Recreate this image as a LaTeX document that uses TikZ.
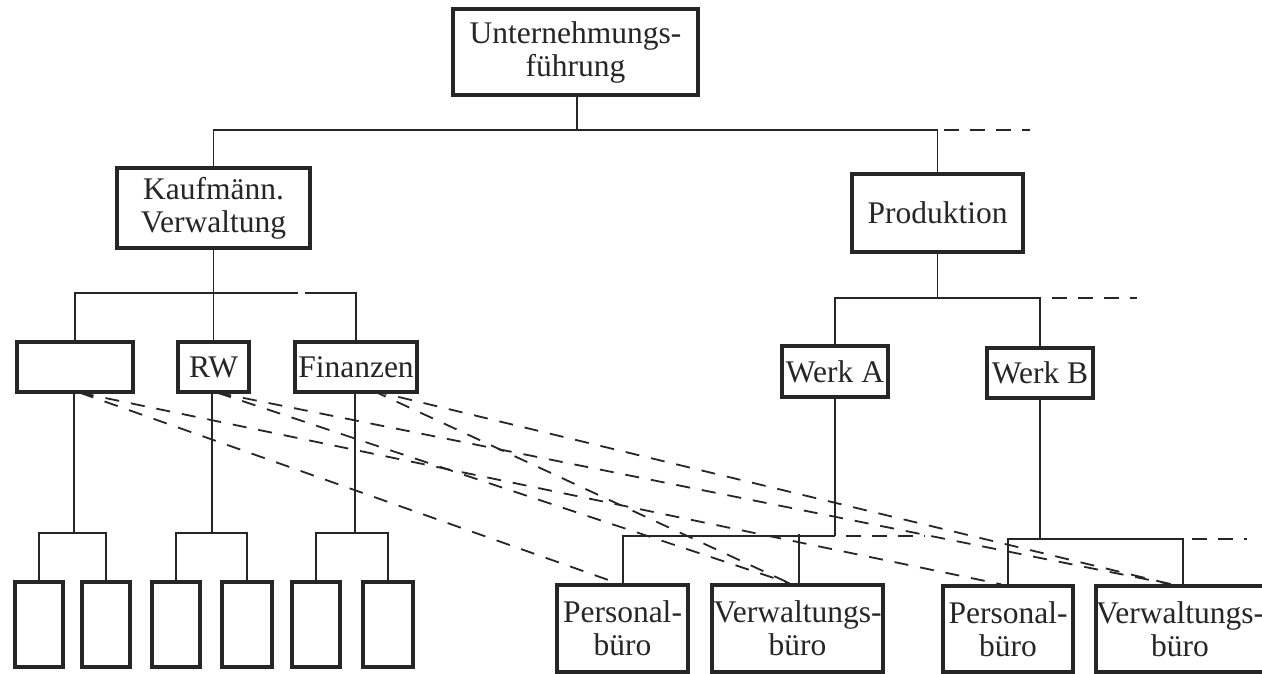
\documentclass[tikz,border=0pt]{standalone}
\usepackage{fontspec}
\setmainfont{Liberation Serif}
\definecolor{ink}{RGB}{38,38,38}
\begin{document}
\begin{tikzpicture}[x=1pt,y=-1pt,
  box/.style={draw=ink, line width=3.5pt, fill=white, inner sep=0pt, align=center,
              font=\fontsize{31.5}{33}\selectfont, text=ink},
  link/.style={draw=ink, line width=1.8pt},
  more/.style={draw=ink, line width=2pt, dash pattern=on 15pt off 11pt},
  staff/.style={draw=ink, line width=1.8pt, dash pattern=on 14pt off 12pt}]
\useasboundingbox (0,0) rectangle (1262,674);

% management levels
\node[box, minimum width=245pt, minimum height=86pt] (top) at (575.5,52) {Unternehmungs-\\führung};
\node[box, minimum width=193pt, minimum height=80pt] (kv) at (213.5,208) {Kaufmänn.\\Verwaltung};
\node[box, minimum width=171pt, minimum height=78pt] (prod) at (937.5,213) {Produktion};

% commercial departments
\node[box, minimum width=116pt, minimum height=50pt] (blank) at (75,367) {};
\node[box, minimum width=71pt, minimum height=50pt] (rw) at (213.5,367) {RW};
\node[box, minimum width=122pt, minimum height=50pt] (fin) at (356,367) {Finanzen};

% plants
\node[box, minimum width=106pt, minimum height=51pt] (wa) at (835,371.5) {Werk A};
\node[box, minimum width=106pt, minimum height=50pt] (wb) at (1040,373) {Werk B};

% sub-units of the commercial departments
\foreach \n/\x/\w in {b1/39/48, b2/106/48, b3/176/48, b4/247/50, b5/316/48, b6/388/50}
  \node[box, minimum width=\w pt, minimum height=85pt] (\n) at (\x,624.5) {};

% plant offices
\node[box, minimum width=131pt, minimum height=87pt] (pa) at (622.5,628.5) {Personal-\\büro};
\node[box, minimum width=171pt, minimum height=87pt] (va) at (797.5,628.5) {Verwaltungs-\\büro};
\node[box, minimum width=130pt, minimum height=86pt] (pb) at (1008,629) {Personal-\\büro};
\node[box, minimum width=160pt, minimum height=86pt] (vb) at (1180,629) {Verwaltungs-\\büro};

% top level
\coordinate (t1) at (577,130);
\draw[link] ([xshift=1.5pt]top.south) -- (t1);
\draw[link] (kv.north) |- (t1) -| (prod.north);
\draw[more] (944,130) -- (1030,130);

% commercial branch
\draw[link] (kv.south) -- (rw.north);
\draw[link] (blank.north) |- (298,293);
\draw[link] (305,293) -| (fin.north);

% production branch
\coordinate (p1) at (937.5,298);
\draw[link] (prod.south) -- (p1);
\draw[link] (wa.north) |- (p1) -| (wb.north);
\draw[more] (1052,298) -- (1137,298);

% sub-units under the commercial departments
\coordinate (g1) at (74,533);
\coordinate (g2) at (212,533);
\coordinate (g3) at (355,533);
\draw[link] ([xshift=-1pt]blank.south) -- (g1);
\draw[link] (b1.north) |- (g1) -| (b2.north);
\draw[link] ([xshift=-1.5pt]rw.south) -- (g2);
\draw[link] (b3.north) |- (g2) -| (b4.north);
\draw[link] ([xshift=-1pt]fin.south) -- (g3);
\draw[link] (b5.north) |- (g3) -| (b6.north);

% offices under the plants
\coordinate (a1) at (835,536);
\coordinate (c1) at (1040,539);
\draw[link] (wa.south) -- (a1);
\draw[link] ([xshift=0.5pt]pa.north) |- (a1);
\draw[link] ([xshift=1.5pt]va.north) -- ++(0,-49);
\draw[more] (846,536) -- (925,536);
\draw[link] (wb.south) -- (c1);
\draw[link] (pb.north) |- (1183,539) -- ([xshift=3pt]vb.north);
\draw[more] (1192,539) -- (1247,539);

% functional (staff) relations
\draw[staff] ([xshift=5pt,yshift=1pt]blank.south) -- ([xshift=-5pt]pa.north);
\draw[staff] ([xshift=5pt,yshift=1pt]blank.south) -- ([xshift=-7pt]pb.north);
\draw[staff] ([xshift=4pt,yshift=1pt]rw.south) -- ([xshift=-8pt]va.north);
\draw[staff] ([xshift=4pt,yshift=1pt]rw.south) -- ([xshift=-9pt]vb.north);
\draw[staff] ([xshift=17pt,yshift=3pt]fin.south) -- ([xshift=-8pt]va.north);
\draw[staff] ([xshift=17pt,yshift=3pt]fin.south) -- ([xshift=-9pt]vb.north);
\end{tikzpicture}
\end{document}
